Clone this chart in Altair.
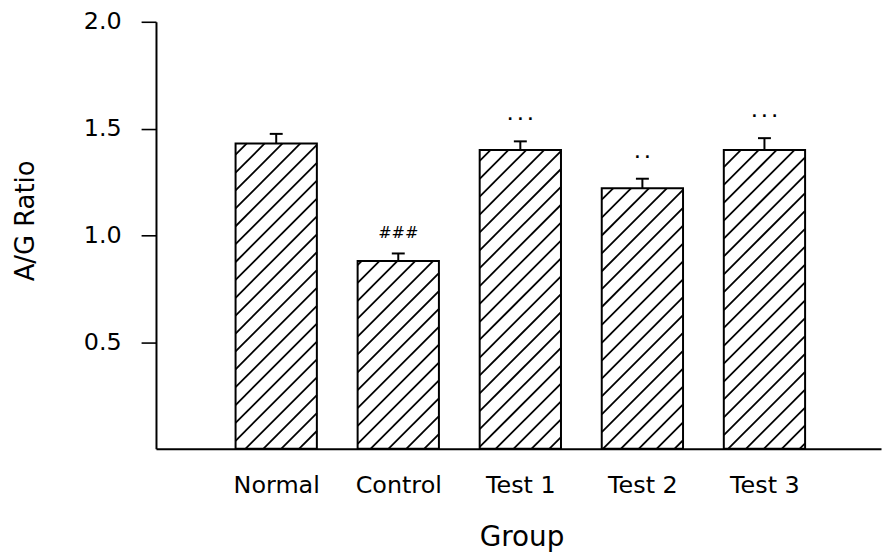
import json
import math
import altair as alt
import pandas as pd

# ---- data ----
groups = ["Normal", "Control", "Test 1", "Test 2", "Test 3"]
ratio = [1.43, 0.88, 1.40, 1.22, 1.40]
sem = [0.045, 0.035, 0.040, 0.045, 0.055]
marks = ["", "###", "·  ·  ·", "·  ·", "·  ·  ·"]
y_ticks = [0.5, 1.0, 1.5, 2.0]

# ---- layout / style constants ----
W, H = 730, 430
XMIN, XMAX = -0.985, 4.955
YMAX = 2.0
BAR_HALF = 0.333
CAP_HALF = 0.053
HATCH_STEP = 18.0  # horizontal spacing of hatch lines, px
FONT = "DejaVu Sans"

sx = W / (XMAX - XMIN)
sy = H / YMAX
idx = list(range(len(groups)))

bars = pd.DataFrame({
    "i": idx,
    "group": groups,
    "ratio": ratio,
    "sem": sem,
    "mark": marks,
})
bars["x_lo"] = bars["i"] - BAR_HALF
bars["x_hi"] = bars["i"] + BAR_HALF
bars["base"] = 0.0
bars["top"] = bars["ratio"] + bars["sem"]
bars["cap_lo"] = bars["i"] - CAP_HALF
bars["cap_hi"] = bars["i"] + CAP_HALF

# hatch segments ("/" at 45 degrees in screen space), clipped to each bar
rows = []
for i, v in zip(idx, ratio):
    X0 = (i - BAR_HALF - XMIN) * sx
    X1 = (i + BAR_HALF - XMIN) * sx
    V = v * sy
    kmin = math.ceil(-X1 / HATCH_STEP)
    kmax = math.floor((V - X0) / HATCH_STEP)
    for k in range(kmin, kmax + 1):
        b = k * HATCH_STEP
        xs = max(X0, -b)
        xe = min(X1, V - b)
        if xe - xs > 1.0:
            rows.append({
                "hx": xs / sx + XMIN, "hy": (xs + b) / sy,
                "hx2": xe / sx + XMIN, "hy2": (xe + b) / sy,
            })
hatch = pd.DataFrame(rows)

xscale = alt.Scale(domain=[XMIN, XMAX], nice=False, zero=False)
yscale = alt.Scale(domain=[0, YMAX], nice=False, zero=False)

label_expr = json.dumps(groups) + "[datum.value]"

x_axis = alt.Axis(
    values=idx, labelExpr=label_expr, ticks=False, grid=False,
    labelPadding=25, labelBaseline="top", labelFontSize=24,
    title="Group", titleFontSize=28, titleX=368, titleY=97,
    titleAlign="center", titleBaseline="alphabetic",
    domainWidth=2, labelFlush=False, labelOverlap=False,
)
y_axis = alt.Axis(
    values=y_ticks, format=".1f", grid=False, tickSize=15, tickWidth=1.6,
    labelPadding=20, labelFontSize=24, labelBaseline="middle",
    title="A/G Ratio", titleFontSize=26, titleX=-131, titleY=200,
    titleAngle=270, titleAlign="center", titleBaseline="middle",
    domainWidth=2,
)


def X(field):
    return alt.X(field, scale=xscale, axis=x_axis, title="Group")


def Y(field):
    return alt.Y(field, scale=yscale, axis=y_axis, title="A/G Ratio")


base = alt.Chart(bars)

fill = base.mark_rect(fill="white", strokeWidth=0).encode(
    x=X("x_lo:Q"), x2="x_hi:Q", y=Y("base:Q"), y2="ratio:Q",
)

hatch_layer = alt.Chart(hatch).mark_rule(color="black", strokeWidth=1.8).encode(
    x=X("hx:Q"), y=Y("hy:Q"), x2="hx2:Q", y2="hy2:Q",
)

outline = base.mark_rect(fillOpacity=0, stroke="black", strokeWidth=2).encode(
    x=X("x_lo:Q"), x2="x_hi:Q", y=Y("base:Q"), y2="ratio:Q",
)

err = base.mark_rule(color="black", strokeWidth=2).encode(
    x=X("i:Q"), y=Y("ratio:Q"), y2="top:Q",
)

cap = base.mark_rule(color="black", strokeWidth=2).encode(
    x=X("cap_lo:Q"), x2="cap_hi:Q", y=Y("top:Q"),
)

hash_txt = alt.Chart(bars[bars["mark"].str.contains("#")]).mark_text(
    font=FONT, fontSize=16, fontStyle="italic", color="black",
    baseline="middle", dy=-21,
).encode(x=X("i:Q"), y=Y("top:Q"), text="mark:N")

dot_txt = alt.Chart(bars[bars["mark"].str.contains("·")]).mark_text(
    font=FONT, fontSize=14, fontWeight="bold", color="black",
    baseline="middle", dy=-21,
).encode(x=X("i:Q"), y=Y("top:Q"), text="mark:N")

chart = alt.layer(fill, hatch_layer, outline, err, cap, hash_txt, dot_txt).properties(
    width=W, height=H,
    autosize=alt.AutoSizeParams(type="none"),
    padding={"left": 149, "top": 12, "right": 2, "bottom": 104},
).configure_view(stroke=None).configure_axis(
    labelFont=FONT, titleFont=FONT, labelColor="black", titleColor="black",
    domainColor="black", tickColor="black", titleFontWeight="normal",
)

chart.save("out.html", embed_options={"renderer": "svg", "actions": False})
